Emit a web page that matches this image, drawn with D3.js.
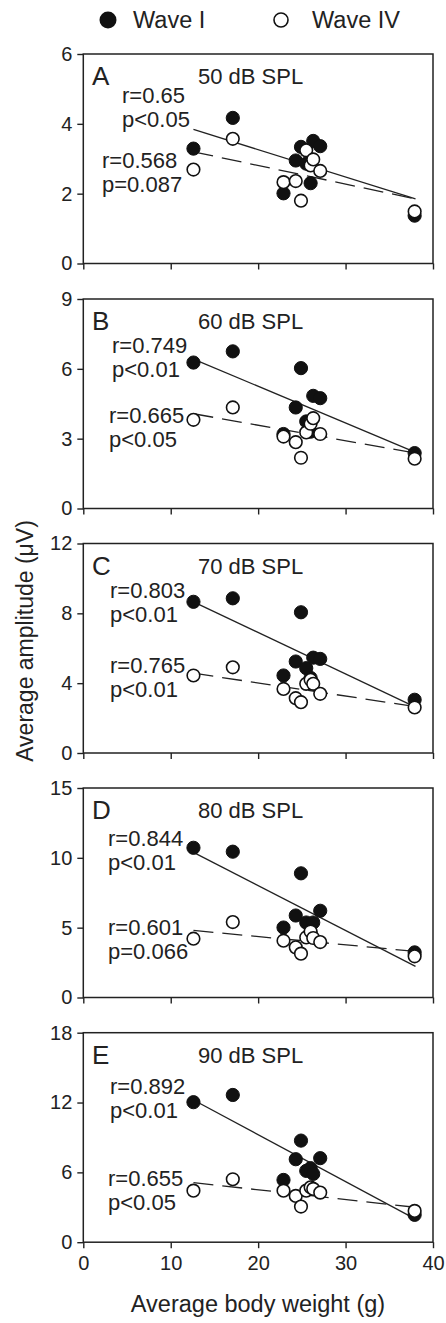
<!DOCTYPE html>
<html>
<head>
<meta charset="utf-8">
<script src="https://cdn.jsdelivr.net/npm/d3@7"></script>
<style>
  body { margin: 0; background: #fff; }
  svg text { font-family: "Liberation Sans", Arial, sans-serif; fill: #222; }
</style>
</head>
<body>
<svg id="chart" width="446" height="1323"></svg>
<script>
// body weights of the ten groups (g), shared by every panel
var weights = [12.6, 17.1, 22.9, 24.3, 24.9, 25.5, 26.0, 26.3, 27.1, 37.9];

var letters = ["A", "B", "C", "D", "E"];
var levels = ["50 dB SPL", "60 dB SPL", "70 dB SPL", "80 dB SPL", "90 dB SPL"];

// wave I amplitudes (uV), one row per panel
var waveI = [
    [3.29, 4.17, 2.01, 2.95, 3.34, 2.86, 2.30, 3.51, 3.36, 1.37],
    [6.27, 6.75, 3.20, 4.34, 6.03, 3.74, 3.30, 4.84, 4.74, 2.38],
    [8.66, 8.86, 4.44, 5.24, 8.06, 4.86, 4.30, 5.46, 5.39, 3.05],
    [10.72, 10.44, 5.01, 5.87, 8.89, 5.37, 4.60, 5.37, 6.21, 3.23],
    [12.03, 12.65, 5.35, 7.13, 8.73, 6.13, 6.36, 5.87, 7.22, 2.35]
];
// wave IV amplitudes (uV)
var waveIV = [
    [2.69, 3.57, 2.33, 2.36, 1.80, 3.24, 2.81, 2.98, 2.65, 1.49],
    [3.81, 4.34, 3.09, 2.85, 2.18, 3.27, 3.64, 3.88, 3.20, 2.14],
    [4.44, 4.91, 3.67, 3.14, 2.91, 3.96, 4.19, 3.96, 3.39, 2.61],
    [4.21, 5.40, 4.07, 3.59, 3.14, 4.30, 4.73, 4.26, 3.97, 2.95],
    [4.43, 5.41, 4.43, 3.98, 3.06, 4.43, 4.72, 4.58, 4.26, 2.69]
];

// regression line end values as drawn, at fitX
var fitX = [12.6, 38.0];
var fitSolid = [[3.84, 1.85], [6.42, 2.41], [8.66, 2.63], [10.39, 2.23], [12.22, 1.98]];
var fitDashed = [[3.20, 1.85], [4.07, 2.38], [4.57, 2.66], [4.80, 3.30], [5.12, 3.00]];

var rSolid = ["r=0.65", "r=0.749", "r=0.803", "r=0.844", "r=0.892"];
var pSolid = ["p<0.05", "p<0.01", "p<0.01", "p<0.01", "p<0.01"];
var rDashed = ["r=0.568", "r=0.665", "r=0.765", "r=0.601", "r=0.655"];
var pDashed = ["p=0.087", "p<0.05", "p<0.01", "p=0.066", "p<0.05"];

var yTicks = [[0, 2, 4, 6], [0, 3, 6, 9], [0, 4, 8, 12], [0, 5, 10, 15], [0, 6, 12, 18]];
var xTicks = [0, 10, 20, 30, 40];

// layout: panel tops and label placement (x, baseline offset from panel top)
var tops = [54, 299, 543.5, 788, 1032.7];
var panelH = 209.5;
var labSolid = [[122, 48.7], [112, 54], [110, 54.5], [108, 58], [110, 61.3]];
var labDashed = [[102, 114], [109, 124], [110, 129.5], [108, 147], [108, 153.3]];

var svg = d3.select("#chart");
var x = d3.scaleLinear().domain([0, 40]).range([83.3, 433]);
var ink = "#222";

letters.forEach(function(letter, i) {
    var top = tops[i];
    var yMax = yTicks[i][yTicks[i].length - 1];
    var y = d3.scaleLinear().domain([0, yMax]).range([top + panelH, top]);
    var g = svg.append("g");

    // left axis, outside ticks
    var ay = g.append("g").attr("transform", "translate(" + x(0) + ",0)")
        .call(d3.axisLeft(y).tickValues(yTicks[i]).tickFormat(d3.format("d")).tickSize(6).tickPadding(5));
    // bottom axis, labels only on last panel
    var axb = d3.axisBottom(x).tickValues(xTicks).tickFormat(d3.format("d")).tickSize(6).tickPadding(8);
    if (i < 4) axb.tickFormat(function() { return ""; });
    var ax = g.append("g").attr("transform", "translate(0," + y(0) + ")").call(axb);
    [ay, ax].forEach(function(a) {
        a.select(".domain").remove();
        a.selectAll("line").attr("stroke", ink).attr("stroke-width", 1.4);
        a.selectAll("text").attr("font-size", 20).attr("fill", ink)
            .style("font-family", "'Liberation Sans', Arial, sans-serif");
    });

    // frame
    g.append("rect").attr("x", x(0)).attr("y", y(yMax))
        .attr("width", x(40) - x(0)).attr("height", y(0) - y(yMax))
        .attr("fill", "none").attr("stroke", ink).attr("stroke-width", 1.5);

    // regression lines
    var line = d3.line().x(function(d) { return x(d[0]); }).y(function(d) { return y(d[1]); });
    g.append("path").datum(fitX.map(function(v, k) { return [v, fitSolid[i][k]]; }))
        .attr("d", line).attr("fill", "none").attr("stroke", ink).attr("stroke-width", 1.3);
    g.append("path").datum(fitX.map(function(v, k) { return [v, fitDashed[i][k]]; }))
        .attr("d", line).attr("fill", "none").attr("stroke", ink).attr("stroke-width", 1.3)
        .attr("stroke-dasharray", "20,9");

    // points: filled wave I under open wave IV
    g.selectAll(".w1").data(waveI[i]).enter().append("circle")
        .attr("cx", function(d, k) { return x(weights[k]); }).attr("cy", function(d) { return y(d); })
        .attr("r", 6.6).attr("fill", "#111").attr("stroke", "#111").attr("stroke-width", 1);
    g.selectAll(".w4").data(waveIV[i]).enter().append("circle")
        .attr("cx", function(d, k) { return x(weights[k]); }).attr("cy", function(d) { return y(d); })
        .attr("r", 6.3).attr("fill", "#fff").attr("stroke", "#111").attr("stroke-width", 1.6);

    // texts
    g.append("text").text(letter).attr("x", 92).attr("y", top + 31).attr("font-size", 26);
    g.append("text").text(levels[i]).attr("x", 198).attr("y", top + 30).attr("font-size", 22);
    g.append("text").text(rSolid[i]).attr("x", labSolid[i][0]).attr("y", top + labSolid[i][1]).attr("font-size", 22);
    g.append("text").text(pSolid[i]).attr("x", labSolid[i][0]).attr("y", top + labSolid[i][1] + 24).attr("font-size", 22);
    g.append("text").text(rDashed[i]).attr("x", labDashed[i][0]).attr("y", top + labDashed[i][1]).attr("font-size", 22);
    g.append("text").text(pDashed[i]).attr("x", labDashed[i][0]).attr("y", top + labDashed[i][1] + 24).attr("font-size", 22);
});

// axis titles
svg.append("text").text("Average body weight (g)").attr("x", 258).attr("y", 1312)
    .attr("text-anchor", "middle").attr("font-size", 23.5);
svg.append("text").text("Average amplitude (\u03bcV)").attr("text-anchor", "middle")
    .attr("transform", "translate(33,641) rotate(-90)").attr("font-size", 23);

// legend
svg.append("circle").attr("cx", 108).attr("cy", 20).attr("r", 8.5).attr("fill", "#111");
svg.append("text").text("Wave I").attr("x", 133).attr("y", 28).attr("font-size", 23.5);
svg.append("circle").attr("cx", 281).attr("cy", 20).attr("r", 7).attr("fill", "#fff")
    .attr("stroke", "#111").attr("stroke-width", 1.6);
svg.append("text").text("Wave IV").attr("x", 312).attr("y", 28).attr("font-size", 23.5);
</script>
</body>
</html>
